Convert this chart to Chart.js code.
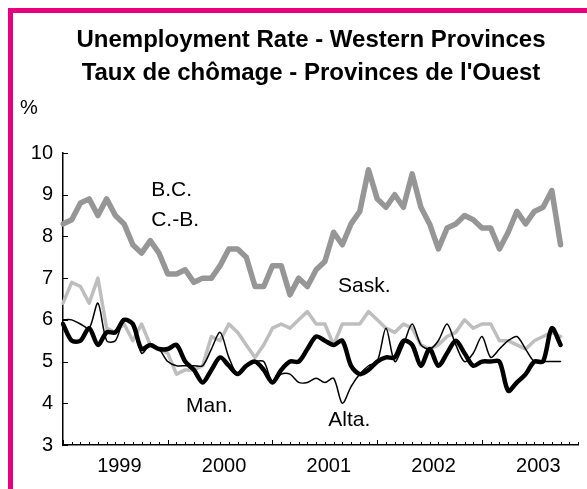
<!DOCTYPE html>
<html>
<head>
<meta charset="utf-8">
<script src="https://cdn.jsdelivr.net/npm/chart.js@4.4.1/dist/chart.umd.min.js"></script>
<style>
  html, body { margin: 0; padding: 0; background: #fff; overflow: hidden; }
  #wrap { position: relative; width: 587px; height: 489px; }
  #frame {
    position: absolute; left: 8px; top: 8px; right: -20px; bottom: -20px;
    border-top: 5px solid #e6007e; border-left: 5px solid #e6007e;
    pointer-events: none;
  }
  canvas { position: absolute; left: 0; top: 0; }
</style>
</head>
<body>
<div id="wrap">
  <canvas id="chart" width="587" height="489"></canvas>
  <div id="frame"></div>
</div>
<script>
// Monthly unemployment rates, Jan 1999 - Oct 2003 (axis runs to Dec 2003)
const years = ['1999', '2000', '2001', '2002', '2003']
const yTicks = [3, 4, 5, 6, 7, 8, 9, 10]

const bc = [
  8.3, 8.4, 8.8, 8.9, 8.5, 8.9, 8.5, 8.3, 7.8, 7.6, 7.9, 7.6,
  7.1, 7.1, 7.2, 6.9, 7.0, 7.0, 7.3, 7.7, 7.7, 7.5, 6.8, 6.8,
  7.3, 7.3, 6.6, 7.0, 6.8, 7.2, 7.4, 8.1, 7.8, 8.3, 8.6, 9.6,
  8.9, 8.7, 9.0, 8.7, 9.5, 8.7, 8.3, 7.7, 8.2, 8.3, 8.5, 8.4,
  8.2, 8.2, 7.7, 8.1, 8.6, 8.3, 8.6, 8.7, 9.1, 7.8
]
const sask = [
  6.4, 6.9, 6.8, 6.4, 7.0, 5.8, 5.7, 5.9, 5.5, 5.9, 5.4, 5.3,
  5.2, 4.7, 4.8, 4.8, 4.9, 5.6, 5.5, 5.9, 5.7, 5.4, 5.1, 5.4,
  5.8, 5.9, 5.8, 6.0, 6.2, 5.9, 5.9, 5.4, 5.9, 5.9, 5.9, 6.2,
  6.0, 5.8, 5.7, 5.9, 5.8, 5.4, 5.3, 5.4, 5.6, 5.7, 6.0, 5.8,
  5.9, 5.9, 5.5, 5.5, 5.4, 5.3, 5.5, 5.6, 5.7, 5.6
]
const man = [
  5.9, 5.5, 5.5, 5.8, 5.4, 5.7, 5.7, 6.0, 5.9, 5.3, 5.4, 5.3,
  5.3, 5.4, 5.0, 4.8, 4.5, 4.8, 5.1, 4.9, 4.7, 4.9, 5.0, 4.8,
  4.5, 4.8, 5.0, 5.0, 5.3, 5.6, 5.5, 5.4, 5.5, 4.9, 4.7, 4.8,
  5.0, 5.1, 5.1, 5.5, 5.4, 4.9, 5.3, 4.9, 5.2, 5.5, 5.2, 4.9,
  5.0, 5.0, 5.0, 4.3, 4.5, 4.7, 5.0, 5.0, 5.8, 5.4
]
const alta = [
  6.0, 6.0, 5.9, 5.8, 6.4, 5.5, 5.5, 6.0, 5.9, 5.2, 5.4, 5.3,
  5.0, 4.9, 4.9, 4.9, 4.9, 5.3, 5.7, 5.1, 4.7, 4.9, 5.0, 5.0,
  4.5, 4.7, 4.7, 4.5, 4.5, 4.6, 4.5, 4.6, 4.0, 4.4, 4.7, 4.9,
  5.0, 5.8, 5.0, 5.4, 5.9, 5.4, 5.3, 5.5, 5.9, 5.4, 5.0, 5.2,
  5.6, 5.1, 5.3, 5.5, 5.6, 5.3, 5.0, 5.0, 5.0, 5.0
]

// line labels placed on the plot: [text, month index, rate]
const seriesLabels = [
  ['B.C.', 10.1, 9.1],
  ['C.-B.', 10.1, 8.4],
  ['Sask.', 31.5, 6.8],
  ['Man.', 14.1, 3.92],
  ['Alta.', 30.4, 3.6]
]
const titleLines = ['Unemployment Rate - Western Provinces', "Taux de chômage - Provinces de l'Ouest"]

const months = []
years.forEach(y => {
  for (let m = 1; m <= 12; m++) months.push(y + '-' + String(m).padStart(2, '0'))
})

const FONT = '"Liberation Sans", Arial, sans-serif'

// ticks drawn inside the axes, titles and line labels
const decor = {
  id: 'decor',
  afterDraw(chart) {
    const { ctx, scales: { x, y } } = chart
    ctx.save()
    ctx.strokeStyle = '#000'
    ctx.lineWidth = 1
    ctx.beginPath()
    months.forEach((m, i) => {
      const px = Math.round(x.getPixelForValue(i)) + 0.5
      const len = i % 12 === 0 ? 5 : 3
      ctx.moveTo(px, y.bottom)
      ctx.lineTo(px, y.bottom - len)
    })
    yTicks.forEach(v => {
      const py = Math.round(y.getPixelForValue(v)) + 0.5
      ctx.moveTo(x.left, py)
      ctx.lineTo(x.left + 5, py)
    })
    ctx.stroke()

    ctx.fillStyle = '#000'
    ctx.font = 'bold 24px ' + FONT
    ctx.textAlign = 'center'
    ctx.textBaseline = 'alphabetic'
    ctx.fillText(titleLines[0], 311, 47)
    ctx.fillText(titleLines[1], 311, 80)

    ctx.font = '20px ' + FONT
    ctx.textAlign = 'left'
    ctx.fillText('%', 20, 114)

    ctx.font = '21px ' + FONT
    ctx.textBaseline = 'middle'
    seriesLabels.forEach(([t, i, v]) => {
      ctx.fillText(t, x.getPixelForValue(i), y.getPixelForValue(v))
    })
    ctx.restore()
  }
}

new Chart(document.getElementById('chart'), {
  type: 'line',
  data: {
    labels: months,
    datasets: [
      { label: 'Alta.', data: alta, borderColor: '#000', borderWidth: 1.5, tension: 0.3, order: 1 },
      { label: 'Man.', data: man, borderColor: '#000', borderWidth: 4.5, tension: 0.3, order: 2 },
      { label: 'Sask.', data: sask, borderColor: '#bebebe', borderWidth: 3.5, order: 3 },
      { label: 'B.C.', data: bc, borderColor: '#969696', borderWidth: 5.5, order: 4 }
    ]
  },
  options: {
    responsive: false,
    animation: false,
    layout: { padding: { left: 0, right: 2, top: 153, bottom: 0 } },
    elements: {
      point: { radius: 0 },
      line: { borderJoinStyle: 'round', borderCapStyle: 'round' }
    },
    scales: {
      x: {
        type: 'category',
        offset: false,
        grid: { display: false, drawTicks: false },
        border: { color: '#000', width: 1.5 },
        afterFit: s => { s.height = 44 },
        ticks: {
          autoSkip: false,
          maxRotation: 0,
          padding: 9,
          labelOffset: 4,
          color: '#000',
          font: { family: FONT, size: 20 },
          callback: (v, i) => (i % 12 === 6 ? years[Math.floor(i / 12)] : '')
        }
      },
      y: {
        min: 3,
        max: 10,
        grid: { display: false, drawTicks: false },
        border: { color: '#000', width: 1.5 },
        afterFit: s => { s.width = 63 },
        ticks: {
          stepSize: 1,
          padding: 10,
          color: '#000',
          font: { family: FONT, size: 20 }
        }
      }
    },
    plugins: {
      legend: { display: false },
      tooltip: { enabled: false },
      title: { display: false }
    }
  },
  plugins: [decor]
})
</script>
</body>
</html>
